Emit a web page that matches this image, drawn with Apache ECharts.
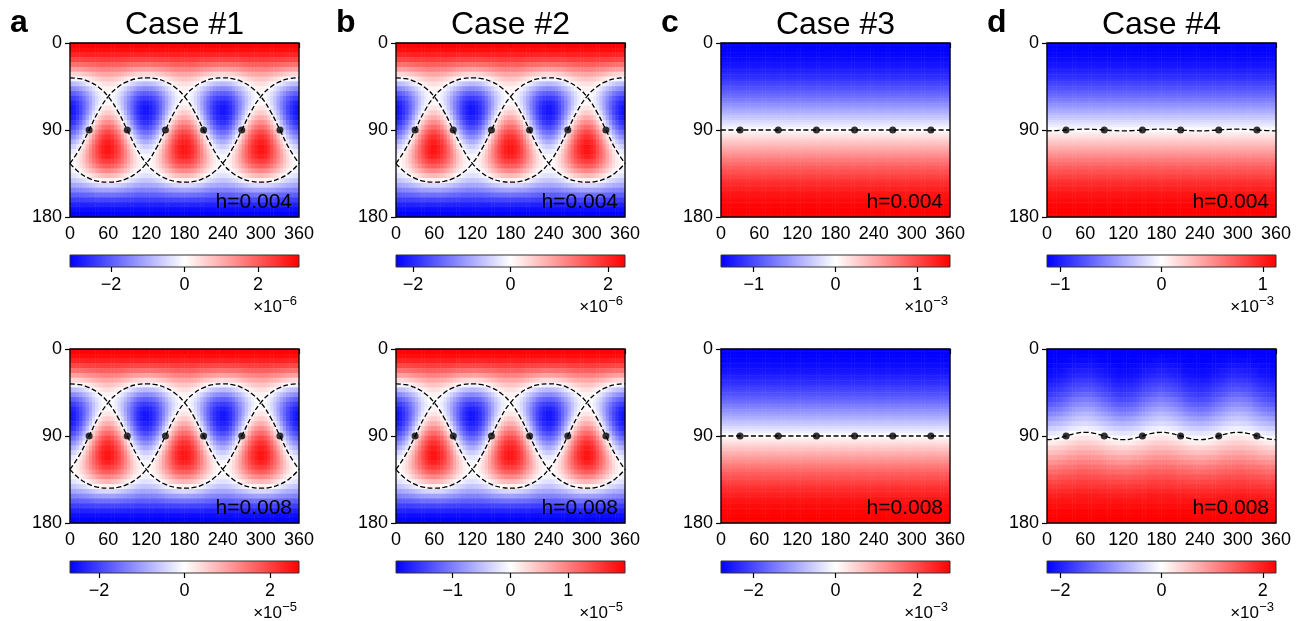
<!DOCTYPE html>
<html><head><meta charset="utf-8">
<script src="https://cdn.jsdelivr.net/npm/echarts@6/dist/echarts.min.js"></script>
<style>html,body{margin:0;padding:0;background:#fff}#c{width:1301px;height:621px}</style>
</head><body><div id="c"></div>
<script>
const FONT = "'Liberation Sans', Arial, Helvetica, sans-serif";

// ---- axes / categories ----
const lonCenters = [2.5,7.5,12.5,17.5,22.5,27.5,32.5,37.5,42.5,47.5,52.5,57.5,62.5,67.5,72.5,77.5,82.5,87.5,92.5,97.5,102.5,107.5,112.5,117.5,
 122.5,127.5,132.5,137.5,142.5,147.5,152.5,157.5,162.5,167.5,172.5,177.5,182.5,187.5,192.5,197.5,202.5,207.5,212.5,217.5,222.5,227.5,232.5,237.5,
 242.5,247.5,252.5,257.5,262.5,267.5,272.5,277.5,282.5,287.5,292.5,297.5,302.5,307.5,312.5,317.5,322.5,327.5,332.5,337.5,342.5,347.5,352.5,357.5];
const latCenters = [2.5,7.5,12.5,17.5,22.5,27.5,32.5,37.5,42.5,47.5,52.5,57.5,62.5,67.5,72.5,77.5,82.5,87.5,92.5,97.5,102.5,107.5,112.5,117.5,122.5,127.5,132.5,137.5,142.5,147.5,152.5,157.5,162.5,167.5,172.5,177.5];
const latFine = [1.25,3.75,6.25,8.75,11.25,13.75,16.25,18.75,21.25,23.75,26.25,28.75,31.25,33.75,36.25,38.75,41.25,43.75,46.25,48.75,51.25,53.75,56.25,58.75,
 61.25,63.75,66.25,68.75,71.25,73.75,76.25,78.75,81.25,83.75,86.25,88.75,91.25,93.75,96.25,98.75,101.25,103.75,106.25,108.75,111.25,113.75,116.25,118.75,
 121.25,123.75,126.25,128.75,131.25,133.75,136.25,138.75,141.25,143.75,146.25,148.75,151.25,153.75,156.25,158.75,161.25,163.75,166.25,168.75,171.25,173.75,176.25,178.75];
const caseTitles = ['Case #1','Case #2','Case #3','Case #4'];
const panelLetters = ['a','b','c','d'];
const hLabels = ['h=0.004','h=0.008'];

// colourbar half-ranges (in units of the exponent), ticks, exponents; order: row1 a..d, row2 a..d
const cbMax = [3.12, 2.35, 1.40, 1.13, 2.68, 1.98, 2.79, 2.26];
const cbTicks = [[-2,0,2],[-2,0,2],[-1,0,1],[-1,0,1],[-2,0,2],[-1,0,1],[-2,0,2],[-2,0,2]];
const cbExponent = ['\u22126','\u22126','\u22123','\u22123','\u22125','\u22125','\u22123','\u22123'];

// ---- field values, % of colourbar limit ----
// Case #1/#2: one 120-degree longitude period (lon 2.5..117.5) per latitude row (5-degree rows)
const fieldCase12 = [
[99,99,99,99,99,99,99,99,99,99,99,99,99,99,99,99,99,99,99,99,99,99,99,99],
[95,95,95,95,95,95,95,95,95,95,95,95,95,95,95,95,95,95,95,95,95,95,95,95],
[86,86,86,86,86,87,87,87,87,87,87,87,87,87,87,87,87,87,87,86,86,86,86,86],
[73,73,73,73,74,74,75,75,76,76,76,76,76,76,76,76,75,75,74,74,73,73,73,73],
[56,56,57,57,58,59,60,61,62,63,63,63,63,63,63,62,61,60,59,58,57,57,56,56],
[37,37,38,39,40,42,44,45,47,48,49,49,49,49,48,47,45,44,42,40,39,38,37,37],
[15,16,17,19,22,24,27,29,32,33,35,35,35,35,33,32,29,27,24,22,19,17,16,15],
[-6,-5,-3,-1,3,6,10,14,17,20,22,23,23,22,20,17,14,10,6,3,-1,-3,-5,-6],
[-28,-26,-24,-20,-15,-10,-5,0,5,8,11,12,12,11,8,5,0,-5,-10,-15,-20,-24,-26,-28],
[-47,-45,-42,-37,-31,-25,-18,-11,-5,-1,3,5,5,3,-1,-5,-11,-18,-25,-31,-37,-42,-45,-47],
[-64,-62,-58,-52,-44,-36,-28,-19,-12,-6,-2,0,0,-2,-6,-12,-19,-28,-36,-44,-52,-58,-62,-64],
[-77,-75,-70,-63,-54,-44,-34,-24,-15,-8,-3,0,0,-3,-8,-15,-24,-34,-44,-54,-63,-70,-75,-77],
[-87,-84,-78,-69,-59,-48,-36,-24,-14,-6,0,3,3,0,-6,-14,-24,-36,-48,-59,-69,-78,-84,-87],
[-92,-88,-81,-72,-60,-48,-34,-21,-10,0,7,10,10,7,0,-10,-21,-34,-48,-60,-72,-81,-88,-92],
[-92,-88,-81,-71,-58,-44,-29,-14,-2,9,16,20,20,16,9,-2,-14,-29,-44,-58,-71,-81,-88,-92],
[-88,-84,-76,-65,-51,-36,-20,-5,9,20,28,32,32,28,20,9,-5,-20,-36,-51,-65,-76,-84,-88],
[-81,-77,-68,-57,-42,-26,-10,6,21,32,41,45,45,41,32,21,6,-10,-26,-42,-57,-68,-77,-81],
[-71,-66,-58,-46,-31,-15,2,19,33,45,54,58,58,54,45,33,19,2,-15,-31,-46,-58,-66,-71],
[-58,-54,-45,-33,-19,-2,15,31,46,58,66,71,71,66,58,46,31,15,-2,-19,-33,-45,-54,-58],
[-45,-41,-32,-21,-6,10,26,42,57,68,77,81,81,77,68,57,42,26,10,-6,-21,-32,-41,-45],
[-32,-28,-20,-9,5,20,36,51,65,76,84,88,88,84,76,65,51,36,20,5,-9,-20,-28,-32],
[-20,-16,-9,2,14,29,44,58,71,81,88,92,92,88,81,71,58,44,29,14,2,-9,-16,-20],
[-10,-7,0,10,21,34,48,60,72,81,88,92,92,88,81,72,60,48,34,21,10,0,-7,-10],
[-3,0,6,14,24,36,48,59,69,78,84,87,87,84,78,69,59,48,36,24,14,6,0,-3],
[0,3,8,15,24,34,44,54,63,70,75,77,77,75,70,63,54,44,34,24,15,8,3,0],
[0,2,6,12,19,28,36,44,52,58,62,64,64,62,58,52,44,36,28,19,12,6,2,0],
[-5,-3,1,5,11,18,25,31,37,42,45,47,47,45,42,37,31,25,18,11,5,1,-3,-5],
[-12,-11,-8,-5,0,5,10,15,20,24,26,28,28,26,24,20,15,10,5,0,-5,-8,-11,-12],
[-23,-22,-20,-17,-14,-10,-6,-3,1,3,5,6,6,5,3,1,-3,-6,-10,-14,-17,-20,-22,-23],
[-35,-35,-33,-32,-29,-27,-24,-22,-19,-17,-16,-15,-15,-16,-17,-19,-22,-24,-27,-29,-32,-33,-35,-35],
[-49,-49,-48,-47,-45,-44,-42,-40,-39,-38,-37,-37,-37,-37,-38,-39,-40,-42,-44,-45,-47,-48,-49,-49],
[-63,-63,-63,-62,-61,-60,-59,-58,-57,-57,-56,-56,-56,-56,-57,-57,-58,-59,-60,-61,-62,-63,-63,-63],
[-76,-76,-76,-76,-75,-75,-74,-74,-73,-73,-73,-73,-73,-73,-73,-73,-74,-74,-75,-75,-76,-76,-76,-76],
[-87,-87,-87,-87,-87,-87,-86,-86,-86,-86,-86,-86,-86,-86,-86,-86,-86,-86,-87,-87,-87,-87,-87,-87],
[-95,-95,-95,-95,-95,-95,-95,-95,-95,-95,-95,-95,-95,-95,-95,-95,-95,-95,-95,-95,-95,-95,-95,-95],
[-99,-99,-99,-99,-99,-99,-99,-99,-99,-99,-99,-99,-99,-99,-99,-99,-99,-99,-99,-99,-99,-99,-99,-99]
];
// Case #3 and Case #4 (h=0.004): zonal profile per 2.5-degree latitude row
const zonalProfile = [-100,-100,-99,-99,-98,-97,-96,-95,-93,-92,-90,-88,-85,-83,-81,-78,-75,-72,-69,-66,-63,-59,-56,-52,-48,-44,-40,-36,-32,-28,-24,-20,-15,-11,-7,-2,
 2,7,11,15,20,24,28,32,36,40,44,48,52,56,59,63,66,69,72,75,78,81,83,85,88,90,92,93,95,96,97,98,99,99,100,100];
// Case #4 (h=0.008): one 120-degree period per 5-degree latitude row
const fieldCase4h8 = [
[-100,-100,-100,-100,-100,-100,-100,-100,-100,-100,-100,-100,-100,-100,-100,-100,-100,-100,-100,-100,-100,-100,-100,-100],
[-100,-100,-100,-100,-99,-99,-99,-99,-98,-98,-98,-98,-98,-98,-98,-98,-99,-99,-99,-99,-100,-100,-100,-100],
[-100,-100,-100,-99,-99,-98,-98,-97,-97,-96,-96,-96,-96,-96,-96,-97,-97,-98,-98,-99,-99,-100,-100,-100],
[-98,-98,-97,-97,-96,-95,-95,-94,-93,-93,-92,-92,-92,-92,-93,-93,-94,-95,-95,-96,-97,-97,-98,-98],
[-96,-96,-95,-94,-94,-93,-91,-90,-90,-89,-88,-88,-88,-88,-89,-90,-90,-91,-93,-94,-94,-95,-96,-96],
[-94,-94,-93,-92,-91,-90,-88,-87,-86,-85,-84,-84,-84,-84,-85,-86,-87,-88,-90,-91,-92,-93,-94,-94],
[-90,-90,-89,-88,-86,-85,-83,-82,-80,-79,-78,-78,-78,-78,-79,-80,-82,-83,-85,-86,-88,-89,-90,-90],
[-86,-85,-85,-83,-82,-80,-78,-76,-75,-73,-73,-72,-72,-73,-73,-75,-76,-78,-80,-82,-83,-85,-85,-86],
[-82,-81,-80,-79,-77,-75,-73,-71,-69,-68,-67,-66,-66,-67,-68,-69,-71,-73,-75,-77,-79,-80,-81,-82],
[-77,-76,-75,-73,-71,-69,-67,-65,-63,-61,-60,-59,-59,-60,-61,-63,-65,-67,-69,-71,-73,-75,-76,-77],
[-71,-70,-69,-67,-65,-62,-60,-57,-55,-53,-52,-51,-51,-52,-53,-55,-57,-60,-62,-65,-67,-69,-70,-71],
[-64,-63,-62,-60,-58,-55,-53,-50,-48,-46,-45,-44,-44,-45,-46,-48,-50,-53,-55,-58,-60,-62,-63,-64],
[-56,-55,-54,-52,-50,-47,-45,-42,-40,-38,-37,-36,-36,-37,-38,-40,-42,-45,-47,-50,-52,-54,-55,-56],
[-48,-47,-46,-44,-42,-39,-37,-34,-32,-30,-29,-28,-28,-29,-30,-32,-34,-37,-39,-42,-44,-46,-47,-48],
[-39,-38,-37,-35,-33,-31,-29,-27,-25,-23,-22,-21,-21,-22,-23,-25,-27,-29,-31,-33,-35,-37,-38,-39],
[-30,-29,-28,-27,-25,-23,-21,-19,-17,-16,-15,-14,-14,-15,-16,-17,-19,-21,-23,-25,-27,-28,-29,-30],
[-20,-19,-19,-17,-16,-14,-12,-10,-9,-7,-7,-6,-6,-7,-7,-9,-10,-12,-14,-16,-17,-19,-19,-20],
[-11,-10,-10,-8,-7,-5,-3,-1,0,2,2,3,3,2,2,0,-1,-3,-5,-7,-8,-10,-10,-11],
[-2,-2,-1,0,2,3,5,6,8,9,10,10,10,10,9,8,6,5,3,2,0,-1,-2,-2],
[7,7,8,9,11,12,14,15,17,18,19,19,19,19,18,17,15,14,12,11,9,8,7,7],
[17,17,18,19,20,21,23,24,25,26,27,27,27,27,26,25,24,23,21,20,19,18,17,17],
[25,25,26,27,28,29,31,32,33,34,35,35,35,35,34,33,32,31,29,28,27,26,25,25],
[34,34,35,36,36,37,39,40,40,41,42,42,42,42,41,40,40,39,37,36,36,35,34,34],
[42,42,43,44,44,45,47,48,48,49,50,50,50,50,49,48,48,47,45,44,44,43,42,42],
[51,51,52,52,53,54,54,55,56,56,57,57,57,57,56,56,55,54,54,53,52,52,51,51],
[58,58,59,59,60,61,61,62,63,63,64,64,64,64,63,63,62,61,61,60,59,59,58,58],
[66,66,66,67,67,68,68,69,69,70,70,70,70,70,70,69,69,68,68,67,67,66,66,66],
[72,72,72,73,73,74,74,75,75,76,76,76,76,76,76,75,75,74,74,73,73,72,72,72],
[78,78,78,78,79,79,79,79,80,80,80,80,80,80,80,80,79,79,79,79,78,78,78,78],
[83,83,83,83,84,84,84,84,85,85,85,85,85,85,85,85,84,84,84,84,83,83,83,83],
[88,88,88,88,89,89,89,89,90,90,90,90,90,90,90,90,89,89,89,89,88,88,88,88],
[92,92,92,92,92,92,92,92,92,92,92,92,92,92,92,92,92,92,92,92,92,92,92,92],
[95,95,95,95,95,95,95,95,95,95,95,95,95,95,95,95,95,95,95,95,95,95,95,95],
[98,98,98,98,98,98,98,98,98,98,98,98,98,98,98,98,98,98,98,98,98,98,98,98],
[99,99,99,99,99,99,99,99,99,99,99,99,99,99,99,99,99,99,99,99,99,99,99,99],
[100,100,100,100,100,100,100,100,100,100,100,100,100,100,100,100,100,100,100,100,100,100,100,100]
];

// ---- nodal lines (colatitude in degrees at these longitudes) ----
const lonNodes = [0,15,30,45,60,75,90,105,120,135,150,165,180,195,210,225,240,255,270,285,300,315,330,345,360];
const circlePeak0   = [36,36.9,40,45.8,55.5,70.4,90,109.6,124.5,134.2,140,143.1,144,143.1,140,134.2,124.5,109.6,90,70.4,55.5,45.8,40,36.9,36];
const circlePeak120 = [124.5,109.6,90,70.4,55.5,45.8,40,36.9,36,36.9,40,45.8,55.5,70.4,90,109.6,124.5,134.2,140,143.1,144,143.1,140,134.2,124.5];
const circlePeak240 = [124.5,134.2,140,143.1,144,143.1,140,134.2,124.5,109.6,90,70.4,55.5,45.8,40,36.9,36,36.9,40,45.8,55.5,70.4,90,109.6,124.5];
const waveCase4h4 = [90.9,90.6,90,89.4,89.1,89.4,90,90.6,90.9,90.6,90,89.4,89.1,89.4,90,90.6,90.9,90.6,90,89.4,89.1,89.4,90,90.6,90.9];
const waveCase4h8 = [93.8,92.7,90,87.3,86.2,87.3,90,92.7,93.8,92.7,90,87.3,86.2,87.3,90,92.7,93.8,92.7,90,87.3,86.2,87.3,90,92.7,93.8];
const equatorLine = [[0,90],[360,90]];
const dotLon = [30,90,150,210,270,330];
const dotLat = 90;

// ---- layout ----
const plotLeft = [70, 396, 721, 1047];
const plotTop = [43, 349];
const plotW = 229, plotH = 174;
const cbTop = [255, 561], cbH = 12;

function cellsFromPeriodRows(rows){
  const out=[], n=rows[0].length;
  for(let i=0;i<rows.length;i++) for(let j=0;j<lonCenters.length;j++) out.push([j,i,rows[i][j%n]]);
  return out;
}
function cellsFromProfile(p){
  const out=[];
  for(let i=0;i<p.length;i++) for(let j=0;j<lonCenters.length;j++) out.push([j,i,p[i]]);
  return out;
}
const pairs = arr => lonNodes.map((x,k)=>[x,arr[k]]);

const panels = [];
for (let r=0;r<2;r++) for (let c=0;c<4;c++){
  let cells, lines, lats;
  if (c<2){ cells = cellsFromPeriodRows(fieldCase12); lats=latCenters; lines=[pairs(circlePeak0),pairs(circlePeak120),pairs(circlePeak240)]; }
  else if (c===2){ cells = cellsFromProfile(zonalProfile); lats=latFine; lines=[equatorLine]; }
  else if (r===0){ cells = cellsFromProfile(zonalProfile); lats=latFine; lines=[pairs(waveCase4h4)]; }
  else { cells = cellsFromPeriodRows(fieldCase4h8); lats=latCenters; lines=[pairs(waveCase4h8)]; }
  panels.push({r,c,cells,lines,lats});
}

const grid=[], xAxis=[], yAxis=[], series=[], graphic=[], heatIdx=[];
const tickStyle = {show:true, inside:false, length:5, lineStyle:{color:'#000', width:1.2}};
const labelStyle = {color:'#000', fontSize:18, fontFamily:FONT};
const bwr = {type:'linear', x:0, y:0, x2:1, y2:0, colorStops:[{offset:0,color:'#0000ff'},{offset:0.5,color:'#ffffff'},{offset:1,color:'#ff0000'}]};

panels.forEach((p,k)=>{
  const L = plotLeft[p.c], T = plotTop[p.r];
  const g0 = grid.length;
  grid.push({left:L, top:T, width:plotW, height:plotH});
  grid.push({left:L, top:T, width:plotW, height:plotH, show:true, backgroundColor:'transparent', borderColor:'#000', borderWidth:1.3, z:5});
  grid.push({left:L, top:cbTop[p.r], width:plotW, height:cbH, show:true, backgroundColor:bwr, borderColor:'#333', borderWidth:1});
  xAxis.push({gridIndex:g0, type:'category', data:lonCenters, show:false});
  yAxis.push({gridIndex:g0, type:'category', data:p.lats, inverse:true, show:false});
  xAxis.push({gridIndex:g0+1, type:'value', min:0, max:360, interval:60, axisLine:{show:false}, axisTick:tickStyle,
    axisLabel:Object.assign({margin:8}, labelStyle), splitLine:{show:false}});
  yAxis.push({gridIndex:g0+1, type:'value', min:0, max:180, interval:90, inverse:true, axisLine:{show:false}, axisTick:tickStyle,
    axisLabel:Object.assign({margin:8}, labelStyle), splitLine:{show:false}});
  xAxis.push({gridIndex:g0+2, type:'value', min:-cbMax[k], max:cbMax[k], axisLine:{show:false},
    axisTick:Object.assign({customValues:cbTicks[k]}, tickStyle),
    axisLabel:Object.assign({margin:9, customValues:cbTicks[k], formatter:v=>(v<0?'\u2212':'')+Math.abs(v)}, labelStyle),
    splitLine:{show:false}});
  yAxis.push({gridIndex:g0+2, type:'value', min:0, max:1, show:false});

  heatIdx.push(series.length);
  series.push({type:'heatmap', xAxisIndex:g0, yAxisIndex:g0, data:p.cells, z:1, progressive:0, emphasis:{disabled:true}, silent:true});
  p.lines.forEach(ln=>{
    series.push({type:'line', xAxisIndex:g0+1, yAxisIndex:g0+1, data:ln, smooth:true, showSymbol:false, symbol:'none', z:6, silent:true,
      lineStyle:{color:'#000', width:1.3, type:[5,2.5]}});
  });
  series.push({type:'scatter', xAxisIndex:g0+1, yAxisIndex:g0+1, data:dotLon.map(x=>[x,dotLat]), symbolSize:7, z:7, silent:true,
    itemStyle:{color:'#000'}});

  // texts
  graphic.push({type:'text', z:10, style:{text:hLabels[p.r], x:L+plotW-7, y:T+plotH-15, align:'right', verticalAlign:'middle', font:'21px '+FONT, fill:'#000'}});
  const R = L+plotW-2, yb = cbTop[p.r]+cbH;
  graphic.push({type:'text', z:10, style:{text:cbExponent[k], x:R, y:yb+34, align:'right', verticalAlign:'middle', font:'13px '+FONT, fill:'#000'}});
  graphic.push({type:'text', z:10, style:{text:'\u00d710', x:R-15, y:yb+40, align:'right', verticalAlign:'middle', font:'17px '+FONT, fill:'#000'}});
  if (p.r===0){
    graphic.push({type:'text', z:10, style:{text:caseTitles[p.c], x:L+plotW/2, y:25, align:'center', verticalAlign:'middle', font:'32px '+FONT, fill:'#000'}});
    graphic.push({type:'text', z:10, style:{text:panelLetters[p.c], x:L-60, y:23, align:'left', verticalAlign:'middle', font:'bold 32px '+FONT, fill:'#000'}});
  }
});

const chart = echarts.init(document.getElementById('c'), null, {renderer:'canvas'});
chart.setOption({
  animation:false,
  backgroundColor:'#fff',
  grid, xAxis, yAxis, series, graphic,
  visualMap:[{type:'continuous', show:false, min:-100, max:100, dimension:2, seriesIndex:heatIdx,
    inRange:{color:['#0000ff','#ffffff','#ff0000']}}]
});
</script></body></html>
